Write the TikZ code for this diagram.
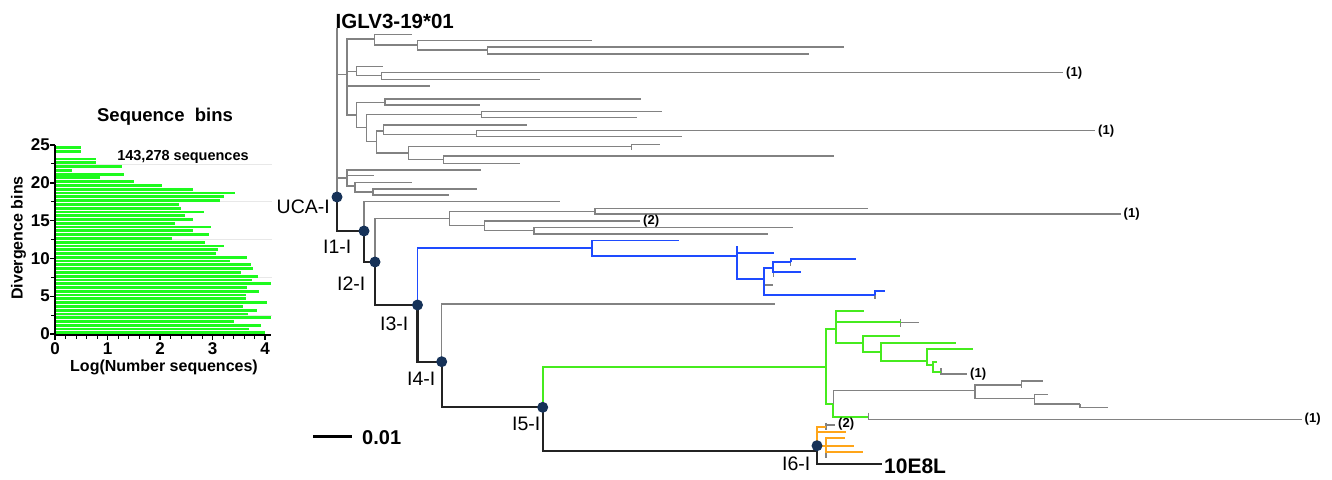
\documentclass[tikz,border=0pt]{standalone}
\usepackage{fontspec}
\setmainfont{Liberation Sans}
\definecolor{treegray}{RGB}{130,130,130}
\definecolor{spinec}{RGB}{35,35,35}
\definecolor{blueT}{RGB}{30,75,255}
\definecolor{greenT}{RGB}{70,235,30}
\definecolor{orangeT}{RGB}{255,165,25}
\definecolor{navy}{RGB}{22,50,88}
\definecolor{barg}{RGB}{30,250,30}
\begin{document}
\begin{tikzpicture}[x=1pt,y=-1pt]
\tikzset{
 gl/.style={draw=treegray, line width=1.05pt},
 sp/.style={draw=spinec, line width=2.1pt},
 bl/.style={draw=blueT, line width=1.8pt},
 gn/.style={draw=greenT, line width=1.8pt},
 og/.style={draw=orangeT, line width=1.8pt},
 dot/.style={circle, fill=navy, inner sep=0pt, minimum size=11pt},
 lab/.style={font=\fontsize{19.5}{22}\selectfont, inner sep=0pt},
 cnt/.style={font=\bfseries\fontsize{13}{15}\selectfont, inner sep=0pt, anchor=west},
 tick/.style={font=\bfseries\fontsize{17}{19}\selectfont, inner sep=0pt},
 axisl/.style={draw=black, line width=1.4pt},
}
\useasboundingbox (0,0) rectangle (1332,479);

% ================= histogram =================
\node[font=\bfseries\fontsize{18.5}{21}\selectfont, inner sep=0pt] (htitle) at (165,116.5) {Sequence\ \ bins};
\foreach \v in {22.5,17.5,12.5,7.5,2.5}{
  \draw[gray!18, line width=0.8pt] (55,{334-7.56*\v}) -- (272,{334-7.56*\v});
}
\foreach \w [count=\i from 0] in {4.0,3.70,3.92,3.40,4.11,3.68,3.85,3.59,4.04,3.63,3.64,3.89,3.65,4.11,3.75,3.87,3.54,3.77,3.73,3.33,3.66,3.07,3.11,3.22,2.86,2.22,2.94,2.62,2.97,2.29,2.62,2.48,2.84,2.40,2.36,3.14,3.22,3.43,2.62,2.04,1.51,0.86,1.31,0.32,1.27,0.79,0.79,0,0.49,0.49}{
  \pgfmathsetmacro\yc{334-7.56*(0.15+0.5*\i)}
  \fill[barg] (55,\yc-1.4) rectangle ({55+52.5*\w},\yc+1.4);
}
\draw[axisl] (55,145) -- (55,335) -- (271,335);
\foreach \v in {0,5,10,15,20,25}{
  \draw[axisl] (50,{334-7.56*\v}) -- (55,{334-7.56*\v});
  \node[tick, anchor=east] at (50,{334-7.56*\v}) {\v};
}
\foreach \v in {2.5,7.5,12.5,17.5,22.5}{
  \draw[line width=1pt] (51,{334-7.56*\v}) -- (55,{334-7.56*\v});
}
\foreach \k in {0,1,2,3,4}{
  \draw[axisl] ({55+52.5*\k},335) -- ({55+52.5*\k},340);
  \node[tick] at ({55+52.5*\k},348.5) {\k};
}
\foreach \k in {1,...,19}{
  \draw[line width=0.9pt] ({55+10.5*\k},335) -- ({55+10.5*\k},338.5);
}
\node[font=\bfseries\fontsize{16}{18}\selectfont, inner sep=0pt, rotate=90] (ylab) at (18.5,238) {Divergence bins};
\node[font=\bfseries\fontsize{16}{18}\selectfont, inner sep=0pt] (xlab) at (164,367) {Log(Number sequences)};
\node[font=\bfseries\fontsize{14.5}{16}\selectfont, inner sep=0pt] (nseq) at (183,157) {143,278 sequences};

% ================= tree: coordinates =================
\coordinate (UCA) at (337,197);
\coordinate (I1) at (364,231);
\coordinate (I2) at (375,262);
\coordinate (I3) at (417.5,305);
\coordinate (I4) at (441.7,361.7);
\coordinate (I5) at (542.7,407.3);
\coordinate (I6) at (817,445.7);
\coordinate (I6in) at (817,451);
\coordinate (T10) at (882,464.3);

\coordinate (A) at (347,74.3);
\coordinate (C) at (347,178);
\coordinate (B1) at (374.3,39);
\coordinate (B1a) at (417.7,45);
\coordinate (B1b) at (487.3,50);
\coordinate (B2) at (356.7,71.7);
\coordinate (B2a) at (381.7,75.7);
\coordinate (B3) at (356.7,115);
\coordinate (B3a) at (385,102.3);
\coordinate (B3b) at (366.7,127.7);
\coordinate (B3d) at (481.7,114.3);
\coordinate (B3c) at (376.7,141.7);
\coordinate (D1) at (383.3,131);
\coordinate (D1a) at (476.7,134.3);
\coordinate (D2) at (408.3,153);
\coordinate (D2a) at (631.7,146.7);
\coordinate (D2b) at (443.3,159.3);
\coordinate (Dc) at (355,186);
\coordinate (Ec) at (373,192);

\coordinate (G1) at (449.3,218.3);
\coordinate (G1a) at (595,211.7);
\coordinate (G1b) at (484.3,225.7);
\coordinate (G1c) at (534,230.5);

\coordinate (Bl) at (591.7,248.3);
\coordinate (Bl2) at (736.7,256);
\coordinate (Bl3) at (764,279.3);
\coordinate (Bl4) at (773.3,268.3);
\coordinate (Bl5) at (790.7,262.3);
\coordinate (Bl6) at (875,295);

\coordinate (Gn) at (826,367);
\coordinate (Gn1) at (836,329.3);
\coordinate (Gn2) at (862.7,343.3);
\coordinate (Gn3) at (881,351.7);
\coordinate (Gn4) at (926.7,360.7);
\coordinate (Gn5) at (932.7,365);
\coordinate (Gn6) at (941,371.7);
\coordinate (Gn7) at (833.3,404);
\coordinate (Gr1) at (975,390.7);
\coordinate (Gr2) at (1021.7,385);
\coordinate (Gr3) at (1034.3,398.3);
\coordinate (Gr4) at (1080,404);
\coordinate (Gn8) at (868.3,416.7);

\coordinate (Or1) at (826,426.7);
\coordinate (Or2) at (826,445.7);

% ================= gray branches (one path) =================
\draw[gl]
 (337,28) -- (UCA)
 (UCA) |- (A)  (UCA) |- (C)
 (A) |- (B1)  (A) |- (B2)  (A) |- (430,86)  (A) |- (B3)
 (B1) |- (411.7,34.3)  (B1) |- (B1a)
 (B1a) |- (591.7,40.7)  (B1a) |- (B1b)
 (B1b) |- (844,47)  (B1b) |- (809,54)
 (B2) |- (383,66.7)  (B2) |- (B2a)
 (B2a) |- (1063,72.7)  (B2a) |- (540,79.3)
 (B3) |- (B3a)  (B3) |- (B3b)
 (B3a) |- (641,99)  (B3a) |- (480,105)
 (B3b) |- (B3d)  (B3b) |- (B3c)
 (B3d) |- (662,111.7)  (B3d) |- (636.7,117.7)
 (B3c) |- (D1)  (B3c) |- (D2)
 (D1) |- (527.3,125)  (D1) |- (D1a)
 (D1a) |- (1095,130.7)  (D1a) |- (682,136.7)
 (D2) |- (D2a)  (D2) |- (D2b)
 (D2a) |- (660,144.3)  (D2a) -- (631.7,150)
 (D2b) |- (834,156)  (D2b) |- (520,163.3)
 (C) |- (481,170)  (C) |- (374,175.7)  (C) |- (Dc)
 (Dc) |- (412,182.7)  (Dc) |- (Ec)
 (Ec) |- (477,189)  (Ec) |- (449,195)
 (I1) |- (560,201.7)
 (I2) |- (G1)
 (G1) |- (G1a)  (G1) |- (G1b)
 (G1a) |- (868.3,208.3)  (G1a) |- (1120.7,214)
 (G1b) |- (640,221)  (G1b) |- (G1c)
 (G1c) |- (793.3,227.5)  (G1c) |- (767.7,234)
 (I4) |- (775,304)
 (790.7,262.3) -- (790.7,266)
 (773.3,272.3) -- (773.3,277)
 (Bl3) |- (773.3,285)
 (875,295) -- (875,299)
 (900.7,318.5) -- (900.7,327)
 (900.7,322.3) -- (919,322.3)
 (941,368) -- (941,374) -- (966.7,374)
 (Gn7) |- (Gr1)
 (Gr1) |- (Gr2)  (Gr1) |- (Gr3)
 (1021.7,380.7) -- (1021.7,387.5)
 (Gr2) |- (1043.3,381)
 (Gr3) |- (1048.3,394.3)  (Gr3) |- (Gr4)
 (Gr4) |- (1107.7,407.3)
 (868.3,412.7) -- (868.3,420)
 (868.3,419.3) -- (1301.7,419.3)
 (826,422.5) -- (826,429.5)
 (826,425) -- (835,425)
 (826,452) -- (826,458);

% ================= blue clade =================
\draw[bl]
 (I3) |- (Bl)
 (Bl) |- (679,240.5)  (Bl) |- (Bl2)
 (736.7,246) -- (Bl2)
 (Bl2) |- (774,252.7)  (Bl2) |- (Bl3)
 (Bl3) |- (Bl4)  (Bl3) |- (Bl6)
 (Bl4) |- (Bl5)  (Bl4) |- (800.7,272.3)
 (Bl5) |- (856,259)
 (Bl6) |- (885,291);

% ================= green clade =================
\draw[gn]
 (I5) |- (Gn)
 (Gn) |- (Gn1)  (Gn) |- (Gn7)
 (Gn1) |- (864,310.7)  (Gn1) |- (900.7,322.3)  (Gn1) |- (Gn2)
 (Gn2) |- (900,336)  (Gn2) |- (Gn3)
 (Gn3) |- (955.7,342.7)  (Gn3) |- (Gn4)
 (Gn4) |- (973.3,349.3)  (Gn4) |- (Gn5)
 (Gn5) |- (936.7,361.7)  (Gn5) |- (Gn6)
 (Gn7) |- (Gn8);

% ================= orange clade =================
\draw[og]
 (I6) |- (Or1)
 (I6) |- (845.7,432.3)
 (I6) -- (Or2)
 (Or2) |- (845,438.3)
 (Or2) |- (854.3,445.7)
 (Or2) |- (863.3,452.3);

% ================= spine =================
\draw[sp]
 (UCA) |- (I1)
 (I1) |- (I2)
 (I2) |- (I3)
 (I3) |- (I4)
 (I4) |- (I5)
 (I5) |- (I6in)
 (I6) |- (T10);

% nodes
\node[dot] (nUCA) at (UCA) {};
\node[dot] (nI1) at (I1) {};
\node[dot] (nI2) at (I2) {};
\node[dot] (nI3) at (I3) {};
\node[dot] (nI4) at (I4) {};
\node[dot] (nI5) at (I5) {};
\node[dot] (nI6) at (I6) {};

% labels
\node[font=\bfseries\fontsize{20.5}{23}\selectfont, inner sep=0pt, anchor=west] (germ) at (335.5,21.5) {IGLV3-19*01};
\node[font=\bfseries\fontsize{21}{24}\selectfont, inner sep=0pt, anchor=west] (ab) at (884,466.5) {10E8L};
\node[lab, anchor=east] (lUCA) at (330,207) {UCA-I};
\node[lab, anchor=west] (lI1) at (323,247) {I1-I};
\node[lab, anchor=west] (lI2) at (337,284) {I2-I};
\node[lab, anchor=west] (lI3) at (380,324) {I3-I};
\node[lab, anchor=west] (lI4) at (407,379) {I4-I};
\node[lab, anchor=west] (lI5) at (512,424) {I5-I};
\node[lab, anchor=west] (lI6) at (782,464) {I6-I};

\node[cnt] (c1) at (1066,72.7) {(1)};
\node[cnt] (c2) at (1098,130.7) {(1)};
\node[cnt] (c3) at (1123.5,214) {(1)};
\node[cnt] (c4) at (643,221) {(2)};
\node[cnt] (c5) at (970,374.5) {(1)};
\node[cnt] (c6) at (1304.5,419.3) {(1)};
\node[cnt] (c7) at (838,424.5) {(2)};

% scale bar
\coordinate (sb1) at (313.3,436.7);
\coordinate (sb2) at (351.7,436.7);
\draw[draw=black, line width=2.6pt] (sb1) -- (sb2);
\node[font=\bfseries\fontsize{20}{23}\selectfont, inner sep=0pt, anchor=west] (sbl) at (362,437.5) {0.01};
\end{tikzpicture}
\end{document}
